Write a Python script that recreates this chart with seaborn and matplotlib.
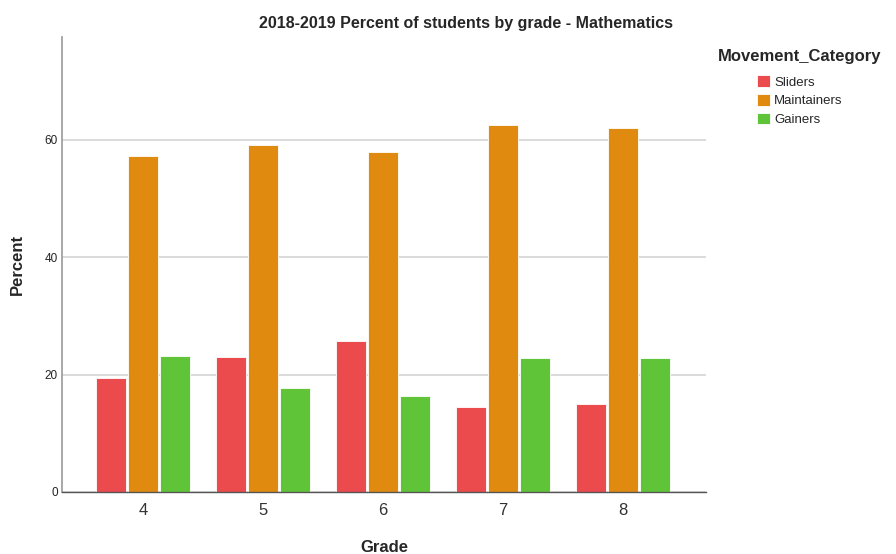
import matplotlib
matplotlib.use("Agg")
import matplotlib.pyplot as plt
import seaborn as sns
import pandas as pd

# values
grades = ["4", "5", "6", "7", "8"]
categories = ["Sliders", "Maintainers", "Gainers"]
sliders = [19.4, 23.0, 25.7, 14.5, 15.0]
maintainers = [57.2, 59.2, 57.9, 62.5, 62.0]
gainers = [23.1, 17.7, 16.3, 22.8, 22.8]

colors = ["#EC4B4E", "#E08A10", "#5FC437"]

df = pd.DataFrame({
    "Grade": grades * 3,
    "Movement_Category": [c for c in categories for _ in grades],
    "Percent": sliders + maintainers + gainers,
})

sns.set_style("white")
plt.rcParams["font.family"] = ["Liberation Sans", "DejaVu Sans"]

fig = plt.figure(figsize=(8.96, 5.54), dpi=100)
ax = fig.add_axes([0.069, 0.112, 0.719, 0.821])

sns.barplot(data=df, x="Grade", y="Percent", hue="Movement_Category",
            hue_order=categories, palette=colors, width=0.8, gap=0.06,
            edgecolor="white", linewidth=0.6, saturation=1, ax=ax)

ax.set_ylim(0, 77.5)
ax.set_xlim(-0.675, 4.69)
ax.set_yticks([0, 20, 40, 60])
ax.yaxis.grid(True, color="#d4d4d4", linewidth=1.2)
ax.set_axisbelow(True)

for s in ["top", "right"]:
    ax.spines[s].set_visible(False)
ax.spines["left"].set_color("#999999")
ax.spines["left"].set_linewidth(1.2)
ax.spines["bottom"].set_color("#555555")
ax.spines["bottom"].set_linewidth(1.0)

ax.tick_params(axis="x", length=0, labelsize=12, labelcolor="#333333", pad=8)
ax.tick_params(axis="y", length=0, labelsize=8.5, labelcolor="#222222", pad=3)

ax.set_xlabel("Grade", fontsize=12, fontweight="bold", labelpad=16)
ax.set_ylabel("Percent", fontsize=12, fontweight="bold", labelpad=14)

fig.text(0.52, 0.958, "2018-2019 Percent of students by grade - Mathematics",
         ha="center", va="center", fontsize=11.5, fontweight="bold")

leg = ax.legend(title="Movement_Category", loc="upper left",
                bbox_to_anchor=(1.0, 1.0), frameon=False, fontsize=9.5,
                handlelength=1.0, handleheight=1.0, handletextpad=0.3,
                labelspacing=0.4)
leg.get_title().set_fontweight("bold")
leg.get_title().set_fontsize(12)
leg._legend_box.sep = 8

fig.savefig("out.png", dpi=100)
